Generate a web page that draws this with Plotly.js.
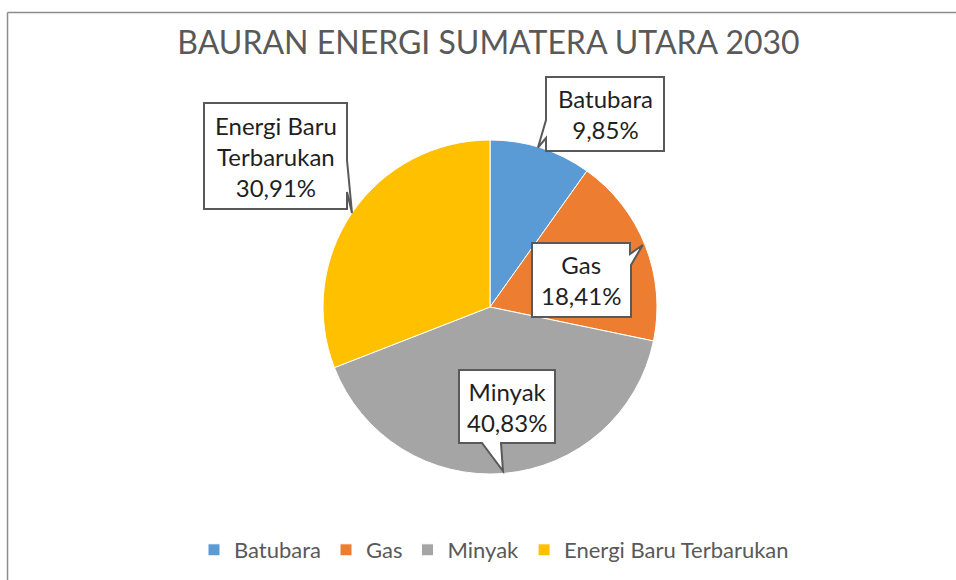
<!DOCTYPE html>
<html>
<head>
<meta charset="utf-8">
<script src="https://cdn.plot.ly/plotly-3.0.1.min.js"></script>
<style>html,body{margin:0;padding:0;background:#fff;}#chart{width:956px;height:580px;}</style>
</head>
<body>
<div id="chart"></div>
<script>
// ---- data ----
const categories = ["Batubara", "Gas", "Minyak", "Energi Baru Terbarukan"];
const labelLines = ["Batubara", "Gas", "Minyak", "Energi Baru<br>Terbarukan"];
const shares = [9.85, 18.41, 40.83, 30.91];
const colors = ["#5B9BD5", "#ED7D31", "#A5A5A5", "#FFC000"];
const chartTitle = "BAURAN ENERGI SUMATERA UTARA 2030";

// ---- layout helpers (pixel -> paper) ----
const W = 956, H = 580;
const px = x => x / W;
const py = y => 1 - y / H;
const cx = 490, cy = 307, R = 167;

// callout bubbles (layout only): polygon outline in pixels
const callouts = [
  [[546,77],[664,77],[664,151],[546,151],[546,138],[538,147.5],[546,120]],
  [[532,243],[630,243],[630,254],[642.7,245],[631,265],[631,317],[532,317]],
  [[459,370],[555,370],[555,443],[501,443],[503,471],[482,443],[459,443]],
  [[204,103],[347,103],[347,160],[352,213],[347,192],[347,209],[204,209]]
];
const boxBottoms = [151, 317, 443, 209];

const fmt = v => v.toFixed(2).replace('.', ',') + '%';

const shapes = callouts.map(pts => ({
  type: 'path', xref: 'paper', yref: 'paper', layer: 'above',
  path: 'M ' + pts.map(p => px(p[0]).toFixed(5) + ',' + py(p[1]).toFixed(5)).join(' L ') + ' Z',
  fillcolor: '#ffffff', line: {color: '#595959', width: 2}
}));
// chart-area frame (top and left edges visible)
shapes.push({type:'line', xref:'paper', yref:'paper', x0:px(7.5), x1:1, y0:py(12.5), y1:py(12.5), line:{color:'#8c8c8c', width:1.5}});
shapes.push({type:'line', xref:'paper', yref:'paper', x0:px(7.5), x1:px(7.5), y0:py(12.5), y1:0, line:{color:'#8c8c8c', width:1.5}});

const annotations = categories.map((c, i) => {
  const pts = callouts[i];
  const x0 = Math.min(pts[0][0], pts[1][0]), x1 = Math.max(pts[0][0], pts[1][0]);
  const top = pts[0][1];
  const bottom = boxBottoms[i];
  return {
    xref: 'paper', yref: 'paper',
    x: px((x0 + x1) / 2), y: py((top + bottom) / 2),
    xanchor: 'center', yanchor: 'middle',
    text: labelLines[i] + '<br>' + fmt(shares[i]),
    showarrow: false,
    font: {family: 'Lato, sans-serif', size: 24, color: '#1f1f1f'}
  };
});

const trace = {
  type: 'pie',
  labels: categories,
  values: shares,
  sort: false,
  direction: 'clockwise',
  rotation: 0,
  marker: {colors: colors, line: {color: '#ffffff', width: 1}},
  textinfo: 'none',
  hoverinfo: 'label+percent',
  domain: {x: [px(cx - R), px(cx + R)], y: [py(cy + R), py(cy - R)]}
};

const layout = {
  width: W, height: H,
  margin: {l: 0, r: 0, t: 0, b: 0},
  paper_bgcolor: '#ffffff',
  title: {
    text: chartTitle,
    x: px(488.5), xanchor: 'center', xref: 'paper',
    y: py(43), yanchor: 'middle', yref: 'paper',
    font: {family: 'Lato, sans-serif', size: 32, color: '#595959'}
  },
  showlegend: true,
  legend: {
    orientation: 'h',
    x: px(494), xanchor: 'center',
    y: py(550), yanchor: 'middle',
    font: {family: 'Lato, sans-serif', size: 22, color: '#595959'},
    traceorder: 'normal'
  },
  shapes: shapes,
  annotations: annotations
};

Plotly.newPlot('chart', [trace], layout, {displayModeBar: false, staticPlot: true});
</script>
</body>
</html>
